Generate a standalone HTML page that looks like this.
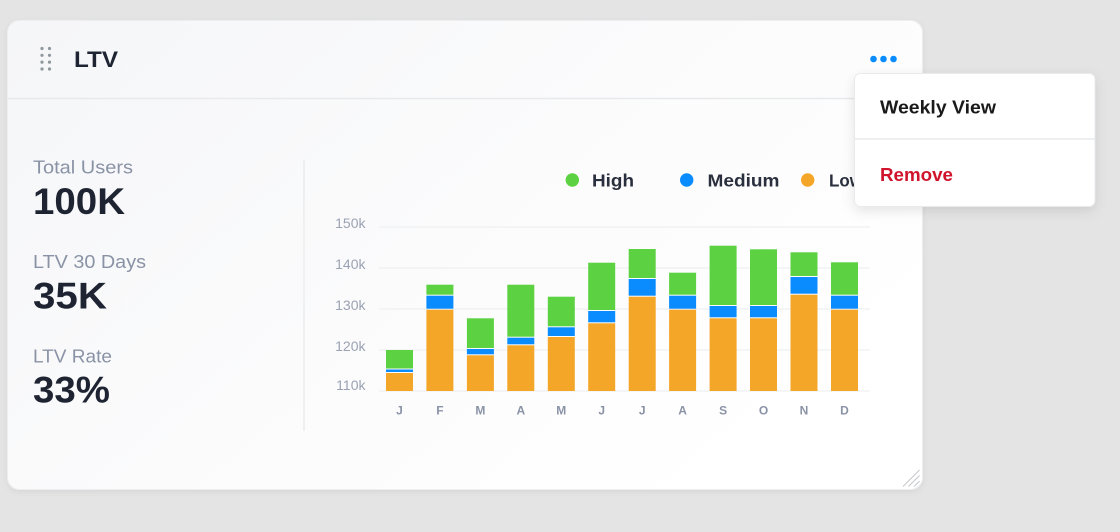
<!DOCTYPE html>
<html><head><meta charset="utf-8"><style>
html,body{margin:0;padding:0;background:#e4e4e4;width:1120px;height:532px;overflow:hidden;}
svg{display:block;font-family:"Liberation Sans",sans-serif;}
</style></head><body>
<svg width="1120" height="532" viewBox="0 0 1120 532" xmlns="http://www.w3.org/2000/svg">
<defs>
<linearGradient id="cg" x1="0" y1="0" x2="1" y2="0.6">
<stop offset="0" stop-color="#f5f6f8"/><stop offset="0.55" stop-color="#fbfbfc"/><stop offset="1" stop-color="#ffffff"/>
</linearGradient>
<filter id="sh" x="-10%" y="-10%" width="120%" height="130%"><feDropShadow dx="0" dy="2" stdDeviation="3" flood-color="#000" flood-opacity="0.06"/></filter>
<filter id="msh" x="-20%" y="-20%" width="140%" height="150%"><feDropShadow dx="0" dy="4" stdDeviation="6" flood-color="#000" flood-opacity="0.10"/></filter>
</defs>
<rect x="0" y="0" width="1120" height="532" fill="#e4e4e4"/>
<!-- card -->
<rect x="7.5" y="20.5" width="915" height="469" rx="12" fill="url(#cg)" stroke="#eceef0" stroke-width="1" filter="url(#sh)"/>
<line x1="8" y1="98.5" x2="922" y2="98.5" stroke="#e7e9ec" stroke-width="1.5"/>
<!-- drag handle -->
<g fill="#8e989d">
<circle cx="42" cy="48.5" r="1.6"/><circle cx="49.5" cy="48.5" r="1.6"/>
<circle cx="42" cy="55.3" r="1.6"/><circle cx="49.5" cy="55.3" r="1.6"/>
<circle cx="42" cy="62.1" r="1.6"/><circle cx="49.5" cy="62.1" r="1.6"/>
<circle cx="42" cy="69" r="1.6"/><circle cx="49.5" cy="69" r="1.6"/>
</g>
<text x="74" y="67" font-size="22.5" font-weight="700" fill="#1f2433" textLength="44" lengthAdjust="spacingAndGlyphs">LTV</text>
<!-- more dots -->
<g fill="#0a8cff"><circle cx="873.5" cy="59" r="3.3"/><circle cx="883.5" cy="59" r="3.3"/><circle cx="893.5" cy="59" r="3.3"/></g>
<!-- left stats -->
<text x="33" y="173.5" font-size="18" fill="#8a93a6" textLength="100" lengthAdjust="spacingAndGlyphs">Total Users</text>
<text x="33" y="214" font-size="37" font-weight="700" fill="#1f2433" textLength="92" lengthAdjust="spacingAndGlyphs">100K</text>
<text x="33" y="268" font-size="18" fill="#8a93a6" textLength="113" lengthAdjust="spacingAndGlyphs">LTV 30 Days</text>
<text x="33" y="308.5" font-size="37" font-weight="700" fill="#1f2433" textLength="74" lengthAdjust="spacingAndGlyphs">35K</text>
<text x="33" y="362.5" font-size="18" fill="#8a93a6" textLength="79" lengthAdjust="spacingAndGlyphs">LTV Rate</text>
<text x="33" y="402.5" font-size="37" font-weight="700" fill="#1f2433" textLength="77" lengthAdjust="spacingAndGlyphs">33%</text>
<line x1="304" y1="160" x2="304" y2="431" stroke="#e6e8eb" stroke-width="1.2"/>
<!-- legend -->
<circle cx="572.3" cy="180" r="6.7" fill="#5cd142"/>
<text x="592" y="186.5" font-size="17.5" font-weight="700" fill="#2a2f3d" textLength="42" lengthAdjust="spacingAndGlyphs">High</text>
<circle cx="686.7" cy="180" r="6.7" fill="#0a8cff"/>
<text x="707.5" y="186.5" font-size="17.5" font-weight="700" fill="#2a2f3d" textLength="72" lengthAdjust="spacingAndGlyphs">Medium</text>
<circle cx="807.7" cy="180" r="6.7" fill="#f4a628"/>
<text x="829" y="186.5" font-size="17.5" font-weight="700" fill="#2a2f3d" textLength="34" lengthAdjust="spacingAndGlyphs">Low</text>
<!-- gridlines -->
<g stroke="#eef0f3" stroke-width="1.3">
<line x1="379" y1="227" x2="870" y2="227"/>
<line x1="379" y1="268" x2="870" y2="268"/>
<line x1="379" y1="309" x2="870" y2="309"/>
<line x1="379" y1="350" x2="870" y2="350"/>
<line x1="379" y1="391" x2="870" y2="391"/>
</g>
<g font-size="14" fill="#9aa2b3" text-anchor="end">
<text x="365.5" y="228">150k</text>
<text x="365.5" y="269">140k</text>
<text x="365.5" y="310">130k</text>
<text x="365.5" y="351">120k</text>
<text x="365.5" y="390">110k</text>
</g>
<!-- bars -->
<g id="bars">
<!-- x, greenTop, blueTop, orangeTop -->
<g transform="translate(386,0)"><rect y="350" width="27" height="18.5" fill="#5cd142"/><rect y="369.5" width="27" height="2.5" fill="#0a8cff"/><rect y="373" width="27" height="18" fill="#f4a628"/></g>
<g transform="translate(426.4,0)"><rect y="284.7" width="27" height="10" fill="#5cd142"/><rect y="295.7" width="27" height="13" fill="#0a8cff"/><rect y="309.7" width="27" height="81.3" fill="#f4a628"/></g>
<g transform="translate(466.9,0)"><rect y="318.3" width="27" height="29.7" fill="#5cd142"/><rect y="349" width="27" height="5.3" fill="#0a8cff"/><rect y="355.3" width="27" height="35.7" fill="#f4a628"/></g>
<g transform="translate(507.3,0)"><rect y="284.7" width="27" height="52" fill="#5cd142"/><rect y="337.7" width="27" height="6.6" fill="#0a8cff"/><rect y="345.3" width="27" height="45.7" fill="#f4a628"/></g>
<g transform="translate(547.8,0)"><rect y="296.7" width="27" height="29.6" fill="#5cd142"/><rect y="327.3" width="27" height="8.7" fill="#0a8cff"/><rect y="337" width="27" height="54" fill="#f4a628"/></g>
<g transform="translate(588.2,0)"><rect y="262.7" width="27" height="47.3" fill="#5cd142"/><rect y="311" width="27" height="11.3" fill="#0a8cff"/><rect y="323.3" width="27" height="67.7" fill="#f4a628"/></g>
<g transform="translate(628.7,0)"><rect y="249" width="27" height="29" fill="#5cd142"/><rect y="279" width="27" height="16.7" fill="#0a8cff"/><rect y="296.7" width="27" height="94.3" fill="#f4a628"/></g>
<g transform="translate(669.1,0)"><rect y="272.7" width="27" height="22" fill="#5cd142"/><rect y="295.7" width="27" height="13" fill="#0a8cff"/><rect y="309.7" width="27" height="81.3" fill="#f4a628"/></g>
<g transform="translate(709.6,0)"><rect y="245.7" width="27" height="59.3" fill="#5cd142"/><rect y="306" width="27" height="11.3" fill="#0a8cff"/><rect y="318.3" width="27" height="72.7" fill="#f4a628"/></g>
<g transform="translate(750,0)"><rect y="249.3" width="27" height="55.7" fill="#5cd142"/><rect y="306" width="27" height="11.3" fill="#0a8cff"/><rect y="318.3" width="27" height="72.7" fill="#f4a628"/></g>
<g transform="translate(790.5,0)"><rect y="252.3" width="27" height="23.7" fill="#5cd142"/><rect y="277" width="27" height="16.7" fill="#0a8cff"/><rect y="294.7" width="27" height="96.3" fill="#f4a628"/></g>
<g transform="translate(831,0)"><rect y="262.3" width="27" height="32.4" fill="#5cd142"/><rect y="295.7" width="27" height="13" fill="#0a8cff"/><rect y="309.7" width="27" height="81.3" fill="#f4a628"/></g>
</g>
<g font-size="12" font-weight="700" fill="#8a93a6" text-anchor="middle">
<text x="399.5" y="414.5">J</text>
<text x="439.9" y="414.5">F</text>
<text x="480.4" y="414.5">M</text>
<text x="520.8" y="414.5">A</text>
<text x="561.3" y="414.5">M</text>
<text x="601.7" y="414.5">J</text>
<text x="642.2" y="414.5">J</text>
<text x="682.6" y="414.5">A</text>
<text x="723.1" y="414.5">S</text>
<text x="763.5" y="414.5">O</text>
<text x="804" y="414.5">N</text>
<text x="844.5" y="414.5">D</text>
</g>
<!-- resize handle -->
<g stroke="#c4c6c9" stroke-width="1">
<line x1="903" y1="486.5" x2="919.5" y2="470"/>
<line x1="908.5" y1="486.5" x2="919.5" y2="475.5"/>
<line x1="914" y1="486.5" x2="919.5" y2="481"/>
</g>
<!-- menu -->
<rect x="854.5" y="73.5" width="240.5" height="133" rx="6" fill="#ffffff" stroke="#e9eaec" stroke-width="1" filter="url(#msh)"/>
<line x1="855" y1="139" x2="1095" y2="139" stroke="#e9eaec" stroke-width="1.5"/>
<text x="880" y="113.5" font-size="18.5" font-weight="700" fill="#1a1a1a" textLength="116" lengthAdjust="spacingAndGlyphs">Weekly View</text>
<text x="880" y="181" font-size="18.5" font-weight="700" fill="#d0142c" textLength="73" lengthAdjust="spacingAndGlyphs">Remove</text>
</svg>
</body></html>
